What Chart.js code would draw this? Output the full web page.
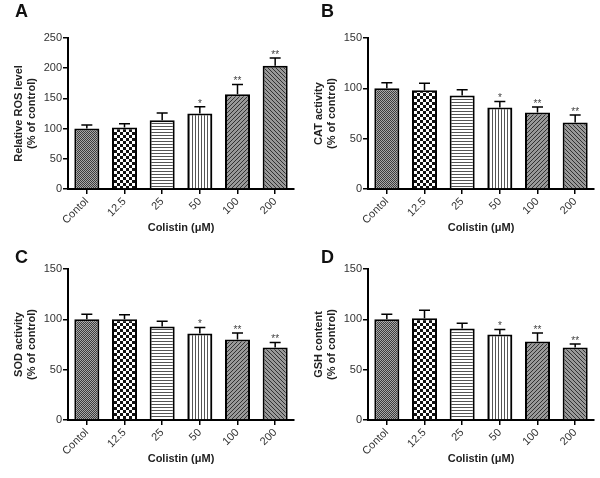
<!DOCTYPE html>
<html>
<head>
<meta charset="utf-8">
<script src="https://cdn.jsdelivr.net/npm/chart.js@4"></script>
<style>
  body { margin: 0; background: #fff; }
  #wrap { position: relative; width: 600px; height: 478px; }
  canvas { position: absolute; }
  .letter { position: absolute; font: bold 18px "Liberation Sans", Arial, sans-serif; color: #111; }
</style>
</head>
<body>
<div id="wrap">
  <canvas id="chartA" width="300" height="239" style="left:0;top:0"></canvas>
  <canvas id="chartB" width="300" height="239" style="left:300px;top:0"></canvas>
  <canvas id="chartC" width="300" height="239" style="left:0;top:239px"></canvas>
  <canvas id="chartD" width="300" height="239" style="left:300px;top:239px"></canvas>
  <div class="letter" style="left:15px;top:1px">A</div>
  <div class="letter" style="left:321px;top:1px">B</div>
  <div class="letter" style="left:15px;top:247px">C</div>
  <div class="letter" style="left:321px;top:247px">D</div>
</div>
<script>
// data
const labels = ['Contol', '12.5', '25', '50', '100', '200'];
const stars = ['', '', '', '*', '**', '**'];

const rosMean = [100, 102, 114, 125, 157, 204];
const rosErr = [6, 6, 12, 11, 16, 13];

const catMean = [100, 98, 93, 81, 76, 66];
const catErr = [5.5, 7, 5.5, 6, 5.5, 7.5];

const sodMean = [100, 100, 93, 86, 80, 72];
const sodErr = [5, 4.5, 5, 6, 6.5, 5];

const gshMean = [100, 101, 91, 85, 78, 72];
const gshErr = [5, 8, 5, 5, 8.5, 3.5];

const FONT = '"Liberation Sans", Arial, sans-serif';

// fill patterns for the six bars
function tile(w, h, draw) {
  const c = document.createElement('canvas');
  c.width = w; c.height = h;
  const g = c.getContext('2d');
  g.fillStyle = '#fff';
  g.fillRect(0, 0, w, h);
  draw(g);
  return g.createPattern(c, 'repeat');
}

function makePatterns() {
  return [
    tile(2, 2, g => {
      g.fillStyle = '#a8a8a8'; g.fillRect(0, 0, 2, 2);
      g.fillStyle = '#3c3c3c'; g.fillRect(0, 0, 1, 1); g.fillRect(1, 1, 1, 1);
    }),
    tile(6, 6, g => {
      g.fillStyle = '#111'; g.fillRect(0, 0, 3, 3); g.fillRect(3, 3, 3, 3);
    }),
    tile(1, 3, g => {
      g.fillStyle = '#555'; g.fillRect(0, 0, 1, 1);
    }),
    tile(3, 1, g => {
      g.fillStyle = '#555'; g.fillRect(0, 0, 1, 1);
    }),
    tile(4, 4, g => {
      g.fillStyle = '#999'; g.fillRect(0, 0, 4, 4);
      g.fillStyle = '#333';
      for (let i = 0; i < 4; i++) g.fillRect(i, 3 - i, 1, 1);
    }),
    tile(4, 4, g => {
      g.fillStyle = '#999'; g.fillRect(0, 0, 4, 4);
      g.fillStyle = '#333';
      for (let i = 0; i < 4; i++) g.fillRect(i, i, 1, 1);
    })
  ];
}

// upper error whisker + significance stars
const errorBars = {
  id: 'errorBars',
  afterDatasetsDraw(chart, args, opts) {
    const { ctx } = chart;
    const y = chart.scales.y;
    const meta = chart.getDatasetMeta(0);
    ctx.save();
    ctx.strokeStyle = '#000';
    ctx.lineWidth = 1.5;
    ctx.fillStyle = '#444';
    ctx.font = '10px ' + FONT;
    ctx.textAlign = 'center';
    ctx.textBaseline = 'bottom';
    meta.data.forEach((bar, i) => {
      const top = y.getPixelForValue(opts.means[i] + opts.errs[i]);
      ctx.beginPath();
      ctx.moveTo(bar.x, bar.y);
      ctx.lineTo(bar.x, top);
      ctx.moveTo(bar.x - 5.5, top);
      ctx.lineTo(bar.x + 5.5, top);
      ctx.stroke();
      if (stars[i]) ctx.fillText(stars[i], bar.x, top + 2);
    });
    ctx.restore();
  }
};

function makeChart(id, means, errs, yMax, yTitle, padTop, padBottom) {
  const axisGrid = { drawOnChartArea: false, tickLength: 5, color: '#000', lineWidth: 1.5 };
  const axisBorder = { color: '#000', width: 2 };
  return new Chart(document.getElementById(id), {
    type: 'bar',
    data: {
      labels: labels,
      datasets: [{
        data: means,
        backgroundColor: makePatterns(),
        borderColor: '#000',
        borderWidth: 2,
        barPercentage: 0.665,
        categoryPercentage: 1
      }]
    },
    options: {
      responsive: false,
      animation: false,
      devicePixelRatio: 1,
      layout: { padding: { left: 0, top: padTop, right: 6, bottom: padBottom } },
      plugins: {
        legend: { display: false },
        tooltip: { enabled: false },
        errorBars: { means: means, errs: errs }
      },
      scales: {
        x: {
          offset: true,
          grid: Object.assign({ offset: false }, axisGrid),
          border: axisBorder,
          ticks: { minRotation: 45, maxRotation: 45, color: '#333', padding: 1, font: { family: FONT, size: 11 } },
          title: { display: true, text: 'Colistin (μM)', color: '#222', padding: { top: 0, bottom: 4 }, font: { family: FONT, size: 11, weight: 'bold' } },
          afterFit: s => { s.height = 50; }
        },
        y: {
          min: 0,
          max: yMax,
          grid: axisGrid,
          border: axisBorder,
          ticks: { stepSize: 50, color: '#333', padding: 1, font: { family: FONT, size: 11 } },
          title: { display: true, text: yTitle, color: '#222', padding: { top: 12, bottom: 0 }, font: { family: FONT, size: 11, weight: 'bold' } },
          afterFit: s => { s.width = 68; }
        }
      }
    },
    plugins: [errorBars]
  });
}

makeChart('chartA', rosMean, rosErr, 250, ['Relative ROS level', '(% of control)'], 38, 0);
makeChart('chartB', catMean, catErr, 150, ['CAT activity', '(% of control)'], 38, 0);
makeChart('chartC', sodMean, sodErr, 150, ['SOD activity', '(% of control)'], 30, 8);
makeChart('chartD', gshMean, gshErr, 150, ['GSH content', '(% of control)'], 30, 8);
</script>
</body>
</html>
